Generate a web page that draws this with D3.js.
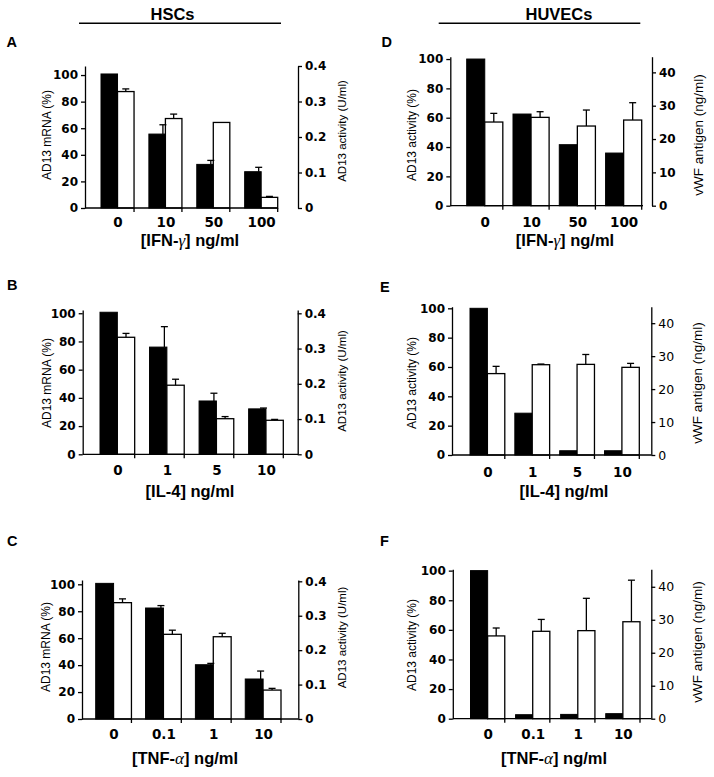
<!DOCTYPE html>
<html><head><meta charset="utf-8">
<script src="https://cdn.jsdelivr.net/npm/d3@7"></script>
<style>body{margin:0;background:#fff}</style>
</head><body>
<svg id="c" width="714" height="777"></svg>
<script>
// ---- categories ----
const catsIFN = ['0','10','50','100'];
const catsIL4 = ['0','1','5','10'];
const catsTNF = ['0','0.1','1','10'];

// ---- HSCs: AD13 mRNA (%) (black, left axis) and AD13 activity (U/ml) (white, right axis) ----
const mrnaA = [100.8, 55.6, 32.8, 27.3];
const mrnaSdA = [0, 7.0, 3.0, 3.3];
const actA = [0.328, 0.252, 0.241, 0.030];
const actSdA = [0.0075, 0.0125, 0, 0.0027];

const mrnaB = [100.7, 76.0, 37.8, 32.2];
const mrnaSdB = [0, 14.5, 5.5, 0.6];
const actB = [0.332, 0.196, 0.101, 0.0965];
const actSdB = [0.011, 0.017, 0.006, 0.0025];

const mrnaC = [100.7, 82.4, 40.3, 29.7];
const mrnaSdC = [0, 1.8, 1.0, 5.9];
const actC = [0.338, 0.246, 0.239, 0.084];
const actSdC = [0.011, 0.012, 0.010, 0.005];

// ---- HUVECs: AD13 activity (%) (black, left axis) and vWF antigen (ng/ml) (white, right axis) ----
const adD = [100, 62.5, 41.6, 35.9];
const adSdD = [0, 0, 0, 0];
const vwfD = [25.1, 26.5, 23.9, 25.7];
const vwfSdD = [2.6, 1.7, 4.8, 5.2];

const adE = [100, 28.5, 2.9, 2.9];
const adSdE = [0, 0, 0, 0];
const vwfE = [24.7, 27.4, 27.5, 26.6];
const vwfSdE = [2.2, 0.2, 3.0, 1.2];

const adF = [100, 2.7, 2.9, 3.4];
const adSdF = [0, 0, 0, 0];
const vwfF = [25.1, 26.5, 26.7, 29.4];
const vwfSdF = [2.4, 3.6, 9.8, 12.6];

// ---- tick labels ----
const leftTicks = [0, 20, 40, 60, 80, 100];
const actTicks = [0, 0.1, 0.2, 0.3, 0.4];
const vwfTicks = [0, 10, 20, 30, 40];

// ---- text ----
const headerHSC = 'HSCs';
const headerHUV = 'HUVECs';
const labelMrna = 'AD13 mRNA (%)';
const labelActU = 'AD13 activity (U/ml)';
const labelActP = 'AD13 activity (%)';
const labelVwf = 'vWF antigen (ng/ml)';
const titleIFN = ['[IFN-', 'γ', '] ng/ml'];
const titleIL4 = ['[IL-4] ng/ml', '', ''];
const titleTNF = ['[TNF-', 'α', '] ng/ml'];

// ---- layout (positions) ----
const panels = [
  {id:'A', cats:catsIFN, left:mrnaA, leftSd:mrnaSdA, right:actA, rightSd:actSdA, rTicks:actTicks, rFmt:d=>d===0?'0':d3.format('.1f')(d), rBold:true,
   lLab:labelMrna, rLab:labelActU, rLabSize:11.5, title:titleIFN,
   L:85, R:298, xEnd:278, y0:208, yTop:66, lMax:106.8, rMax:0.4, bx0:101, bx1:277.7, pi:0.31,
   letter:[6.5,46.7], lLabPos:[46.7,135], rLabPos:[341.7,131], titlePos:[190,246], catY:227},
  {id:'B', cats:catsIL4, left:mrnaB, leftSd:mrnaSdB, right:actB, rightSd:actSdB, rTicks:actTicks, rFmt:d=>d===0?'0':d3.format('.1f')(d), rBold:true,
   lLab:labelMrna, rLab:labelActU, rLabSize:11.5, title:titleIL4,
   L:82.7, R:297.7, xEnd:298, y0:454.3, yTop:310, lMax:102.3, rMax:0.4094, bx0:100, bx1:283.3, pi:0.30,
   letter:[7,290], lLabPos:[46.7,383], rLabPos:[341.7,381], titlePos:[190,496.5], catY:475},
  {id:'C', cats:catsTNF, left:mrnaC, leftSd:mrnaSdC, right:actC, rightSd:actSdC, rTicks:actTicks, rFmt:d=>d===0?'0':d3.format('.1f')(d), rBold:true,
   lLab:labelMrna, rLab:labelActU, rLabSize:11.5, title:titleTNF,
   L:82, R:298.3, xEnd:298, y0:719, yTop:580, lMax:103.2, rMax:0.4038, bx0:95.7, bx1:281, pi:0.283,
   letter:[7,546], lLabPos:[45.7,647], rLabPos:[341.7,637.5], titlePos:[185,764], catY:739},
  {id:'D', cats:catsIFN, left:adD, leftSd:adSdD, right:vwfD, rightSd:vwfSdD, rTicks:vwfTicks, rFmt:d=>String(d), rBold:true,
   lLab:labelActP, rLab:labelVwf, rLabSize:13.5, title:titleIFN,
   L:450.3, R:652, xEnd:643, y0:205.7, yTop:56.7, lMax:101.6, rMax:44.7, bx0:466.7, bx1:641.7, pi:0.22,
   letter:[381.5,46.7], lLabPos:[411.3,135], rLabPos:[698.7,135], titlePos:[565,246], catY:226.5},
  {id:'E', cats:catsIL4, left:adE, leftSd:adSdE, right:vwfE, rightSd:vwfSdE, rTicks:vwfTicks, rFmt:d=>String(d), rBold:false,
   lLab:labelActP, rLab:labelVwf, rLabSize:13.5, title:titleIL4,
   L:452, R:651.3, xEnd:651, y0:455, yTop:306.7, lMax:101.1, rMax:45.0, bx0:470, bx1:639.3, pi:0.224,
   letter:[380,291.7], lLabPos:[412,383], rLabPos:[697,383], titlePos:[564,496.5], catY:476.5},
  {id:'F', cats:catsTNF, left:adF, leftSd:adSdF, right:vwfF, rightSd:vwfSdF, rTicks:vwfTicks, rFmt:d=>String(d), rBold:false,
   lLab:labelActP, rLab:labelVwf, rLabSize:13.5, title:titleTNF,
   L:452.8, R:651.3, xEnd:651, y0:718.7, yTop:569.3, lMax:100.9, rMax:45.3, bx0:470.5, bx1:640, pi:0.24,
   letter:[380,546], lLabPos:[411.3,645], rLabPos:[697,642], titlePos:[554,764], catY:739}
];

const svg = d3.select('#c');
const SW = 1.3;
const tickFont = 'DejaVu Sans, sans-serif';
const textFont = 'Liberation Sans, Arial, sans-serif';

// headers
[[headerHSC,172.5,79,281],[headerHUV,559,438.7,640.3]].forEach(([t,cx,x1,x2])=>{
  svg.append('text').attr('x',cx).attr('y',20).attr('text-anchor','middle')
    .attr('font-family',textFont).attr('font-weight','bold').attr('font-size',16.5).text(t);
  svg.append('line').attr('x1',x1).attr('x2',x2).attr('y1',23.3).attr('y2',23.3)
    .attr('stroke','#000').attr('stroke-width',1.4);
});

panels.forEach(p=>{
  const g = svg.append('g');
  const yL = d3.scaleLinear().domain([0,p.lMax]).range([p.y0,p.yTop]);
  const yR = d3.scaleLinear().domain([0,p.rMax]).range([p.y0,p.yTop]);
  const x = d3.scaleBand().domain(p.cats).range([p.bx0,p.bx1]).paddingInner(p.pi).paddingOuter(0);
  const xs = d3.scaleBand().domain(['black','white']).range([0,x.bandwidth()]);
  const bw = xs.bandwidth();

  // black bars (left axis)
  g.selectAll('rect.b').data(p.cats).join('rect').attr('class','b')
    .attr('x',d=>x(d)+xs('black')).attr('width',bw)
    .attr('y',(d,i)=>yL(p.left[i])).attr('height',(d,i)=>p.y0-yL(p.left[i]))
    .attr('fill','#000').attr('stroke','#000').attr('stroke-width',1);
  // white bars (right axis)
  g.selectAll('rect.w').data(p.cats).join('rect').attr('class','w')
    .attr('x',d=>x(d)+xs('white')).attr('width',bw)
    .attr('y',(d,i)=>yR(p.right[i])).attr('height',(d,i)=>p.y0-yR(p.right[i]))
    .attr('fill','#fff').attr('stroke','#000').attr('stroke-width',SW);

  // error bars
  const cap = 3.5;
  p.cats.forEach((c,i)=>{
    if(p.leftSd[i]>0){
      const ex = x(c)+xs('black')+bw-2.5;
      g.append('line').attr('x1',ex).attr('x2',ex).attr('y1',yL(p.left[i])).attr('y2',yL(p.left[i]+p.leftSd[i])).attr('stroke','#000').attr('stroke-width',SW);
      g.append('line').attr('x1',ex-cap).attr('x2',ex+cap).attr('y1',yL(p.left[i]+p.leftSd[i])).attr('y2',yL(p.left[i]+p.leftSd[i])).attr('stroke','#000').attr('stroke-width',SW);
    }
    if(p.rightSd[i]>0){
      const ex = x(c)+xs('white')+bw/2;
      g.append('line').attr('x1',ex).attr('x2',ex).attr('y1',yR(p.right[i])).attr('y2',yR(p.right[i]+p.rightSd[i])).attr('stroke','#000').attr('stroke-width',SW);
      g.append('line').attr('x1',ex-cap).attr('x2',ex+cap).attr('y1',yR(p.right[i]+p.rightSd[i])).attr('y2',yR(p.right[i]+p.rightSd[i])).attr('stroke','#000').attr('stroke-width',SW);
    }
  });

  // left axis
  const la = g.append('g').attr('transform',`translate(${p.L},0)`)
    .call(d3.axisLeft(yL).tickValues(leftTicks).tickSize(4).tickSizeOuter(0).tickPadding(3));
  // right axis
  const ra = g.append('g').attr('transform',`translate(${p.R},0)`)
    .call(d3.axisRight(yR).tickValues(p.rTicks).tickFormat(p.rFmt).tickSize(4).tickSizeOuter(0).tickPadding(3));
  [la,ra].forEach(a=>{
    a.attr('font-family',tickFont).attr('font-size',12).attr('font-weight','bold');
    a.select('.domain').attr('stroke-width',SW);
    a.selectAll('.tick line').attr('stroke-width',SW);
    a.selectAll('.tick text').attr('fill','#000');
  });
  if(!p.rBold) ra.attr('font-weight','normal').attr('font-size',12.5);

  // x axis
  g.append('line').attr('x1',p.L).attr('x2',p.xEnd).attr('y1',p.y0).attr('y2',p.y0)
    .attr('stroke','#000').attr('stroke-width',SW);
  g.selectAll('line.xt').data(p.cats).join('line').attr('class','xt')
    .attr('x1',d=>x(d)+x.bandwidth()).attr('x2',d=>x(d)+x.bandwidth())
    .attr('y1',p.y0).attr('y2',p.y0+4).attr('stroke','#000').attr('stroke-width',SW);
  g.selectAll('text.xl').data(p.cats).join('text').attr('class','xl')
    .attr('x',d=>x(d)+xs('white')+0.5).attr('y',p.catY).attr('text-anchor','middle')
    .attr('font-family',tickFont).attr('font-weight','bold').attr('font-size',13.5).text(d=>d);

  // x title
  const t = g.append('text').attr('x',p.titlePos[0]).attr('y',p.titlePos[1]).attr('text-anchor','middle')
    .attr('font-family',textFont).attr('font-weight','bold').attr('font-size',16.5);
  t.append('tspan').text(p.title[0]);
  if(p.title[1]) t.append('tspan').attr('font-family','Liberation Serif, serif').attr('font-style','italic').attr('font-weight','normal').attr('font-size',17).text(p.title[1]);
  if(p.title[2]) t.append('tspan').text(p.title[2]);

  // y axis titles
  g.append('text').attr('transform',`translate(${p.lLabPos[0]},${p.lLabPos[1]}) rotate(-90)`)
    .attr('text-anchor','middle').attr('dy','0.35em').attr('font-family',textFont).attr('font-size',12).text(p.lLab);
  g.append('text').attr('transform',`translate(${p.rLabPos[0]},${p.rLabPos[1]}) rotate(-90)`)
    .attr('text-anchor','middle').attr('dy','0.35em').attr('font-family',textFont).attr('font-size',p.rLabSize).text(p.rLab);

  // panel letter
  g.append('text').attr('x',p.letter[0]).attr('y',p.letter[1]).attr('font-family',textFont)
    .attr('font-weight','bold').attr('font-size',14.5).text(p.id);
});
</script>
</body></html>
